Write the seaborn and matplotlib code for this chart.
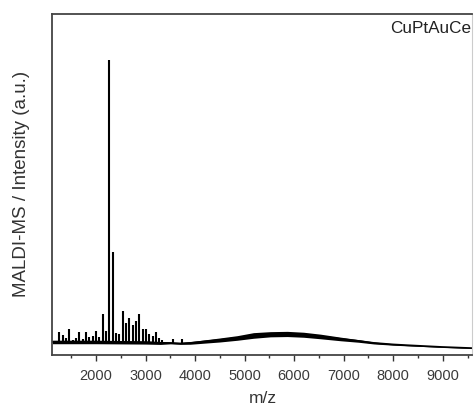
import numpy as np
import pandas as pd
import matplotlib
matplotlib.use("Agg")
import matplotlib.pyplot as plt
import seaborn as sns
from matplotlib.ticker import MultipleLocator

sns.set_style("white")
plt.rcParams["font.family"] = ["Liberation Sans", "DejaVu Sans"]

# Sharp cluster peaks (m/z, intensity a.u.)
peak_mz = [1259, 1327, 1388, 1461, 1529, 1596, 1663, 1731, 1798, 1865, 1933,
           2000, 2067, 2135, 2202, 2263, 2333, 2404, 2465, 2539, 2606, 2673,
           2739, 2808, 2875, 2943, 3010, 3077, 3145, 3212, 3279, 3340, 3549, 3731]
peak_int = [7.8, 6.8, 5.8, 8.8, 5.0, 5.8, 7.8, 5.4, 7.8, 6.1, 6.4,
            8.1, 6.1, 13.9, 8.1, 100.0, 35.0, 7.5, 7.1, 14.9, 10.8, 12.5,
            10.2, 11.5, 13.9, 8.8, 8.8, 7.1, 6.4, 7.8, 5.8, 5.0, 5.4, 5.4]
peak_base = 4.0

# Baseline / broad hump envelope (m/z, centre, noise half-width)
env_mz = [1120, 2000, 3000, 3300, 3500, 3700, 3900, 4160, 4500, 4850, 5180,
          5520, 5860, 6190, 6530, 6940, 7300, 7610, 8000, 8290, 8970, 9660]
env_center = [4.41, 4.41, 4.24, 4.07, 4.07, 3.90, 4.07, 4.51, 5.08, 5.76, 6.61,
              7.02, 7.12, 6.85, 6.27, 5.42, 4.75, 4.07, 3.56, 3.29, 2.71, 2.27]
env_half = [0.6, 0.6, 0.55, 0.5, 0.3, 0.3, 0.44, 0.54, 0.68, 0.78, 0.95,
            0.88, 0.88, 0.85, 0.78, 0.61, 0.44, 0.34, 0.24, 0.20, 0.10, 0.10]

x_ticks = [2000, 3000, 4000, 5000, 6000, 7000, 8000, 9000]
sample_label = "CuPtAuCe"

fig = plt.figure(figsize=(4.74, 4.07), dpi=100)
ax = fig.add_axes([0.1103, 0.1278, 0.8865, 0.8390])

env = pd.DataFrame({"mz": env_mz, "I": env_center})
sns.lineplot(data=env, x="mz", y="I", ax=ax, color="black", lw=1.3,
             estimator=None)
lower = np.array(env_center) - np.array(env_half)
upper = np.array(env_center) + np.array(env_half)
ax.fill_between(env_mz, lower, upper, color="black", lw=0)
ax.vlines(peak_mz, peak_base, peak_int, color="black", lw=1.5)

ax.set_xlim(1117, 9600)
ax.set_ylim(0, 115.6)
ax.set_xticks(x_ticks)
ax.xaxis.set_minor_locator(MultipleLocator(500))
ax.set_yticks([])
ax.tick_params(axis="x", which="major", direction="out", length=4, width=1,
               color="#333333", labelsize=10.5, labelcolor="#3a3a3a", pad=6,
               bottom=True)
ax.tick_params(axis="x", which="minor", direction="out", length=2.5, width=1,
               color="#333333", bottom=True)

for side, sp in ax.spines.items():
    sp.set_visible(True)
    sp.set_color("#444444")
    sp.set_linewidth(1.3)
ax.spines["right"].set_color("#cccccc")
ax.spines["right"].set_linewidth(0.8)

ax.set_xlabel("m/z", fontsize=12.5, color="#333333", labelpad=6)
ax.set_ylabel("MALDI-MS / Intensity (a.u.)", fontsize=13.5, color="#333333",
              labelpad=16)
ax.text(0.998, 0.955, sample_label, transform=ax.transAxes, ha="right",
        va="center", fontsize=12.3, color="#222222")

fig.savefig("out.png", dpi=100)
